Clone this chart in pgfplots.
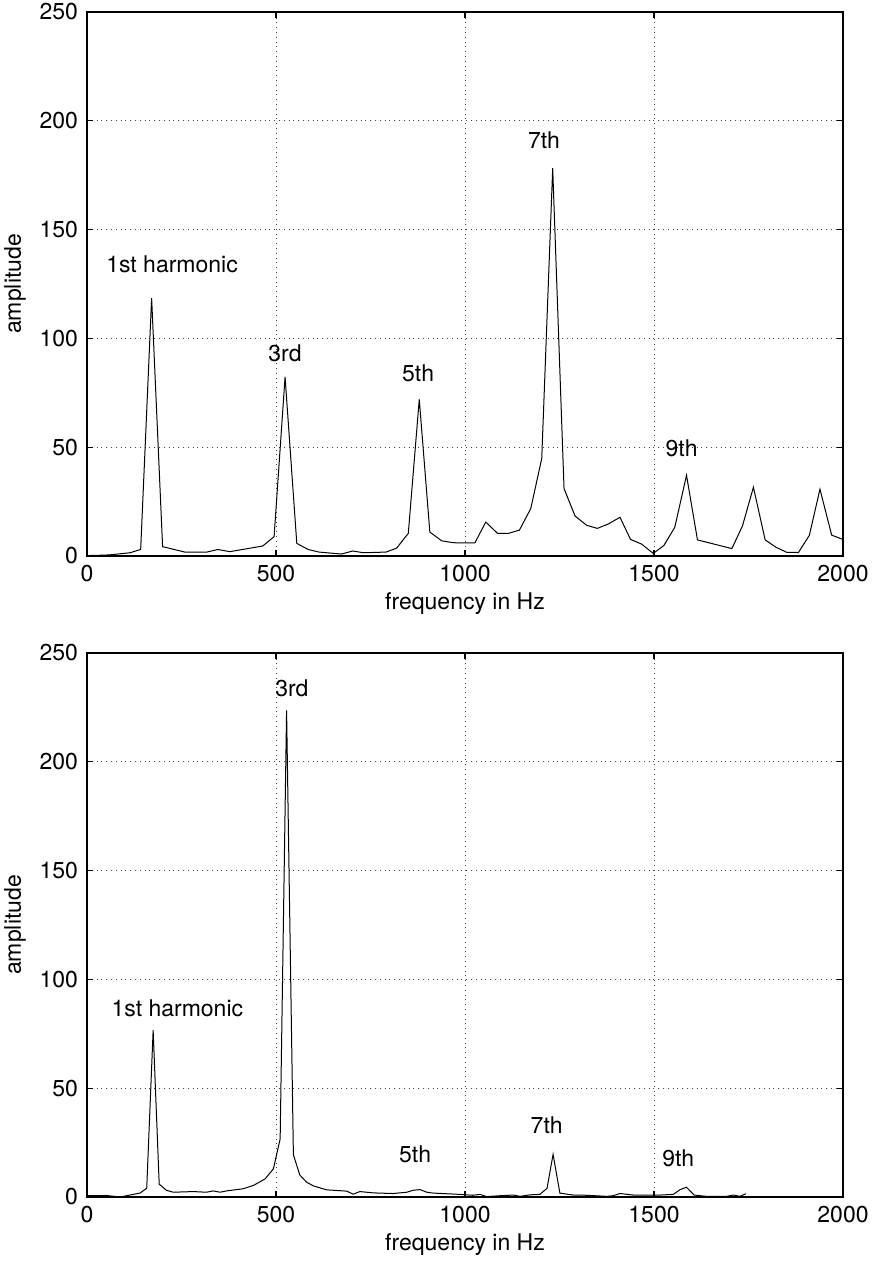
\documentclass[border=0pt]{standalone}
\usepackage{fontspec}
\setmainfont{TeX Gyre Heros}
\usepackage{pgfplots}
\usepackage{pgfplotstable}
\pgfplotsset{compat=1.18}
\pgfplotstableread{
x y
0 0.2
29 0.3
58 0.5
87 1
114 1.5
142 3
171 118.5
200 4.3
259 1.8
317 1.8
346 3
378 2
465 4.6
495 8.9
524 82.3
555 5.8
585 3
614 1.8
673 0.9
703 2.3
731 1.5
791 1.8
819 3.6
850 10.4
879 72
907 11
938 7
969 6.1
1026 6
1055 15.6
1086 10.4
1115 10.4
1144 11.9
1174 21.8
1203 44.8
1232 178.2
1262 31
1291 18.4
1322 14.1
1350 12.7
1379 14.7
1410 17.8
1438 7.6
1467 5.5
1498 1.2
1526 4.8
1555 13.2
1586 37.1
1615 7.4
1706 3.4
1734 13.8
1763 31.6
1794 7.4
1823 4
1851 1.7
1882 1.6
1911 9.5
1939 30.7
1970 9.6
2000 7.6
}\topdata
\pgfplotstableread{
x y
0 0.6
52 0.7
87 0
140 1.8
158 4
175 76.7
191 5.9
210 3.1
228 2.2
281 2.5
316 2.2
334 2.8
352 2.2
369 2.8
413 3.8
440 5.3
471 8.3
493 12.9
511 26.7
528 223.6
546 19.4
563 10.1
581 6.8
599 5.1
634 3.3
687 2.7
704 1.3
722 2.5
757 1.9
810 1.6
846 2.2
863 3.1
881 3.4
899 2.2
916 1.8
952 1.5
987 1.2
1020 0.8
1040 1.2
1057 0.2
1093 0.6
1128 0.9
1146 0.3
1172 1
1198 1.2
1217 4
1233 19.6
1251 1.8
1286 0.9
1322 0.8
1375 0.3
1392 0.6
1410 1.6
1445 0.9
1498 0.9
1516 0.9
1551 1.2
1569 3.4
1586 4.5
1606 0.9
1639 0.3
1692 0.3
1710 0.9
1727 0.3
1743 1.5
}\bottomdata
\pgfplotsset{
  harm/.style={
    scale only axis,
    width=378pt, height=272pt,
    xmin=0, xmax=2000, ymin=0, ymax=250,
    xtick={0,500,...,2000}, ytick={0,50,...,250},
    tick align=inside, tick pos=both,
    major tick length=3pt,
    axis line style={line width=0.9pt},
    every tick/.style={black, line width=0.6pt},
    grid=major,
    major grid style={dotted, black!75, line width=0.5pt},
    /pgf/number format/assume math mode=true,
    /pgf/number format/1000 sep={},
    tick label style={font=\fontsize{11.5}{13}\selectfont},
    xticklabel style={yshift=-1pt},
    yticklabel style={xshift=-1pt},
    xlabel={frequency in Hz}, ylabel={amplitude},
    xlabel style={yshift=1.5pt, font=\fontsize{11.5}{13}\selectfont},
    ylabel style={font=\fontsize{11.5}{13}\selectfont},
  },
}
\tikzset{lbl/.style={font=\fontsize{11.5}{13}\selectfont, anchor=center}}
\begin{document}
\begin{tikzpicture}
\useasboundingbox (-43.5pt,6pt) rectangle (394pt,-625pt);
\begin{axis}[harm, at={(0,0)}, anchor=north west]
\addplot[black, line width=0.5pt] table[x=x,y=y] {\topdata};
\node[lbl] at (axis cs:225,134) {1st harmonic};
\node[lbl] at (axis cs:524,93) {3rd};
\node[lbl] at (axis cs:876,84) {5th};
\node[lbl] at (axis cs:1209,191) {7th};
\node[lbl] at (axis cs:1573,49.5) {9th};
\end{axis}
\begin{axis}[harm, at={(0,-320.5pt)}, anchor=north west]
\addplot[black, line width=0.5pt] table[x=x,y=y] {\bottomdata};
\node[lbl] at (axis cs:239,86.7) {1st harmonic};
\node[lbl] at (axis cs:542,234) {3rd};
\node[lbl] at (axis cs:868,19.6) {5th};
\node[lbl] at (axis cs:1216,33) {7th};
\node[lbl] at (axis cs:1564,17.8) {9th};
\end{axis}
\end{tikzpicture}
\end{document}
